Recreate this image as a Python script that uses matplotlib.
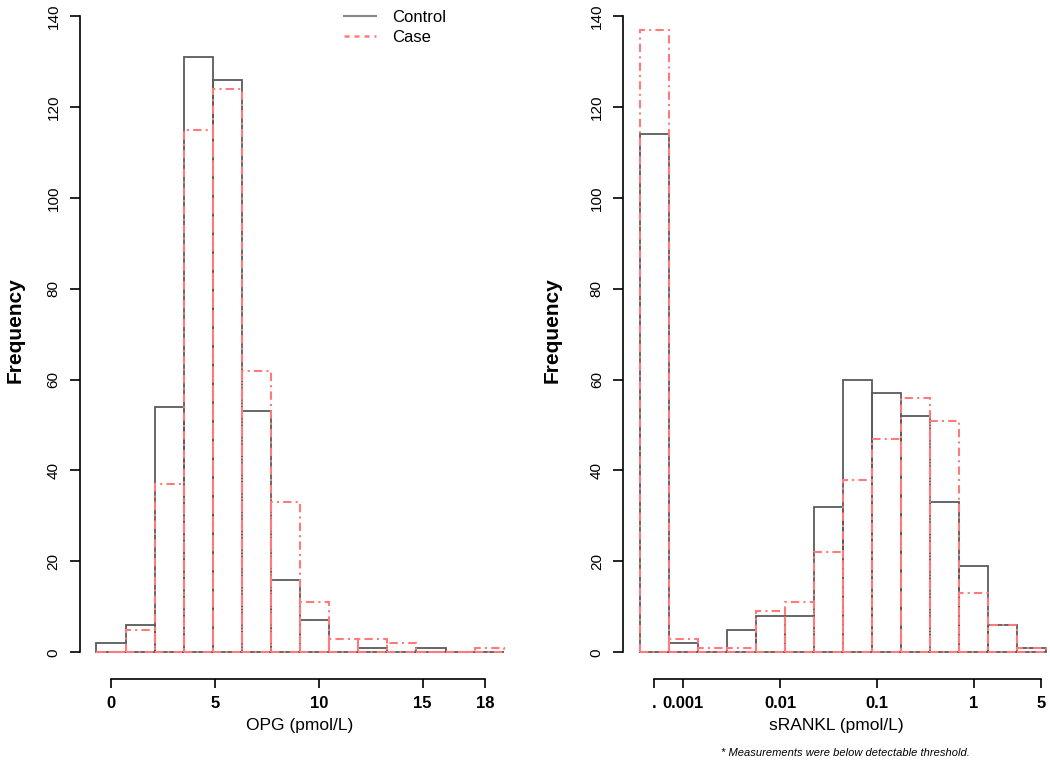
import matplotlib
matplotlib.use('Agg')
import matplotlib.pyplot as plt
import numpy as np

plt.rcParams['font.family'] = ['Liberation Sans', 'DejaVu Sans']

# OPG (pmol/L): 14 bins of width 1.4
opg_edges = [-0.7 + 1.4 * i for i in range(15)]
opg_control = [2, 6, 54, 131, 126, 53, 16, 7, 0, 1, 0, 1, 0, 0]
opg_case = [0, 5, 37, 115, 124, 62, 33, 11, 3, 3, 2, 0, 0, 1]
opg_ticks = [0, 5, 10, 15, 18]
opg_labels = ['0', '5', '10', '15', '18']

# sRANKL (pmol/L): bins in log10 units, first bin = below detection threshold
rankl_edges = [-3.45 + 0.3 * i for i in range(15)]
rankl_control = [114, 2, 0, 5, 8, 8, 32, 60, 57, 52, 33, 19, 6, 1]
rankl_case = [137, 3, 1, 1, 9, 11, 22, 38, 47, 56, 51, 13, 6, 1]
rankl_ticks = [-3.3, -3, -2, -1, 0, np.log10(5)]
rankl_labels = ['.', '0.001', '0.01', '0.1', '1', '5']

y_ticks = [0, 20, 40, 60, 80, 100, 120, 140]

ctrl_col = '#5a5a5a'
case_col = '#ff7a7a'
case_ls = (0, (4, 2, 1, 2))

W, H = 1050, 761
fig = plt.figure(figsize=(W / 100, H / 100), dpi=100)

# pixel geometry
ax1 = fig.add_axes([80 / W, (H - 679) / H, 439.6 / W, 679 / H])
ax2 = fig.add_axes([623.3 / W, (H - 679) / H, (W - 623.3) / W, 679 / H])

unit = (652.3 - 16) / 140.0
ylim = (-(679 - 652.3) / unit, 652.3 / unit)


def draw_hist(ax, edges, control, case):
    edges = np.array(edges)
    widths = np.diff(edges)
    ax.bar(edges[:-1], control, width=widths, align='edge', fill=False,
           edgecolor=ctrl_col, linewidth=1.3, label='Control')
    ax.bar(edges[:-1], case, width=widths, align='edge', fill=False,
           edgecolor=case_col, linewidth=1.5, linestyle=case_ls, label='Case')


draw_hist(ax1, opg_edges, opg_control, opg_case)
draw_hist(ax2, rankl_edges, rankl_control, rankl_case)

px1 = 20.78
ax1.set_xlim((80 - 111) / px1, (519.6 - 111) / px1)
px2 = 96.8
ax2.set_xlim((623.3 - 973.7) / px2, (W - 973.7) / px2)

for ax, ticks, labels in [(ax1, opg_ticks, opg_labels), (ax2, rankl_ticks, rankl_labels)]:
    ax.set_ylim(*ylim)
    for s in ['top', 'right']:
        ax.spines[s].set_visible(False)
    ax.spines['left'].set_bounds(0, 140)
    ax.spines['bottom'].set_bounds(ticks[0], ticks[-1])
    ax.spines['left'].set_linewidth(1.2)
    ax.spines['bottom'].set_linewidth(1.2)
    ax.set_yticks(y_ticks)
    ax.set_yticklabels([str(v) for v in y_ticks], rotation=90, va='center')
    ax.set_xticks(ticks)
    ax.set_xticklabels(labels, fontweight='bold')
    ax.tick_params(axis='y', length=7, width=1.2, pad=7, labelsize=11)
    ax.tick_params(axis='x', length=6.5, width=1.2, pad=6, labelsize=12)
    ax.set_ylabel('Frequency', fontsize=15, fontweight='bold')

ax1.yaxis.set_label_coords((25 - 80) / 439.6, (679 - 330) / 679)
ax2.yaxis.set_label_coords((562 - 623.3) / (W - 623.3), (679 - 330) / 679)

ax1.set_xlabel('OPG (pmol/L)', fontsize=12.5, labelpad=5)
ax2.set_xlabel('sRANKL (pmol/L)', fontsize=12.5, labelpad=5)

fig.text(845 / W, 1 - 753 / H, '* Measurements were below detectable threshold.',
         fontsize=8, style='italic', ha='center', va='center')

ax1.legend(loc='upper left', bbox_to_anchor=(334 / W, 1.0), bbox_transform=fig.transFigure,
           frameon=False, fontsize=12, handlelength=1.9, handletextpad=1.0,
           labelspacing=0.3, borderpad=0.1,
           handles=[plt.Line2D([], [], color='#888888', lw=1.5),
                    plt.Line2D([], [], color=case_col, lw=1.8, linestyle=(0, (2, 2)))],
           labels=['Control', 'Case'])

fig.savefig('out.png', dpi=100)
